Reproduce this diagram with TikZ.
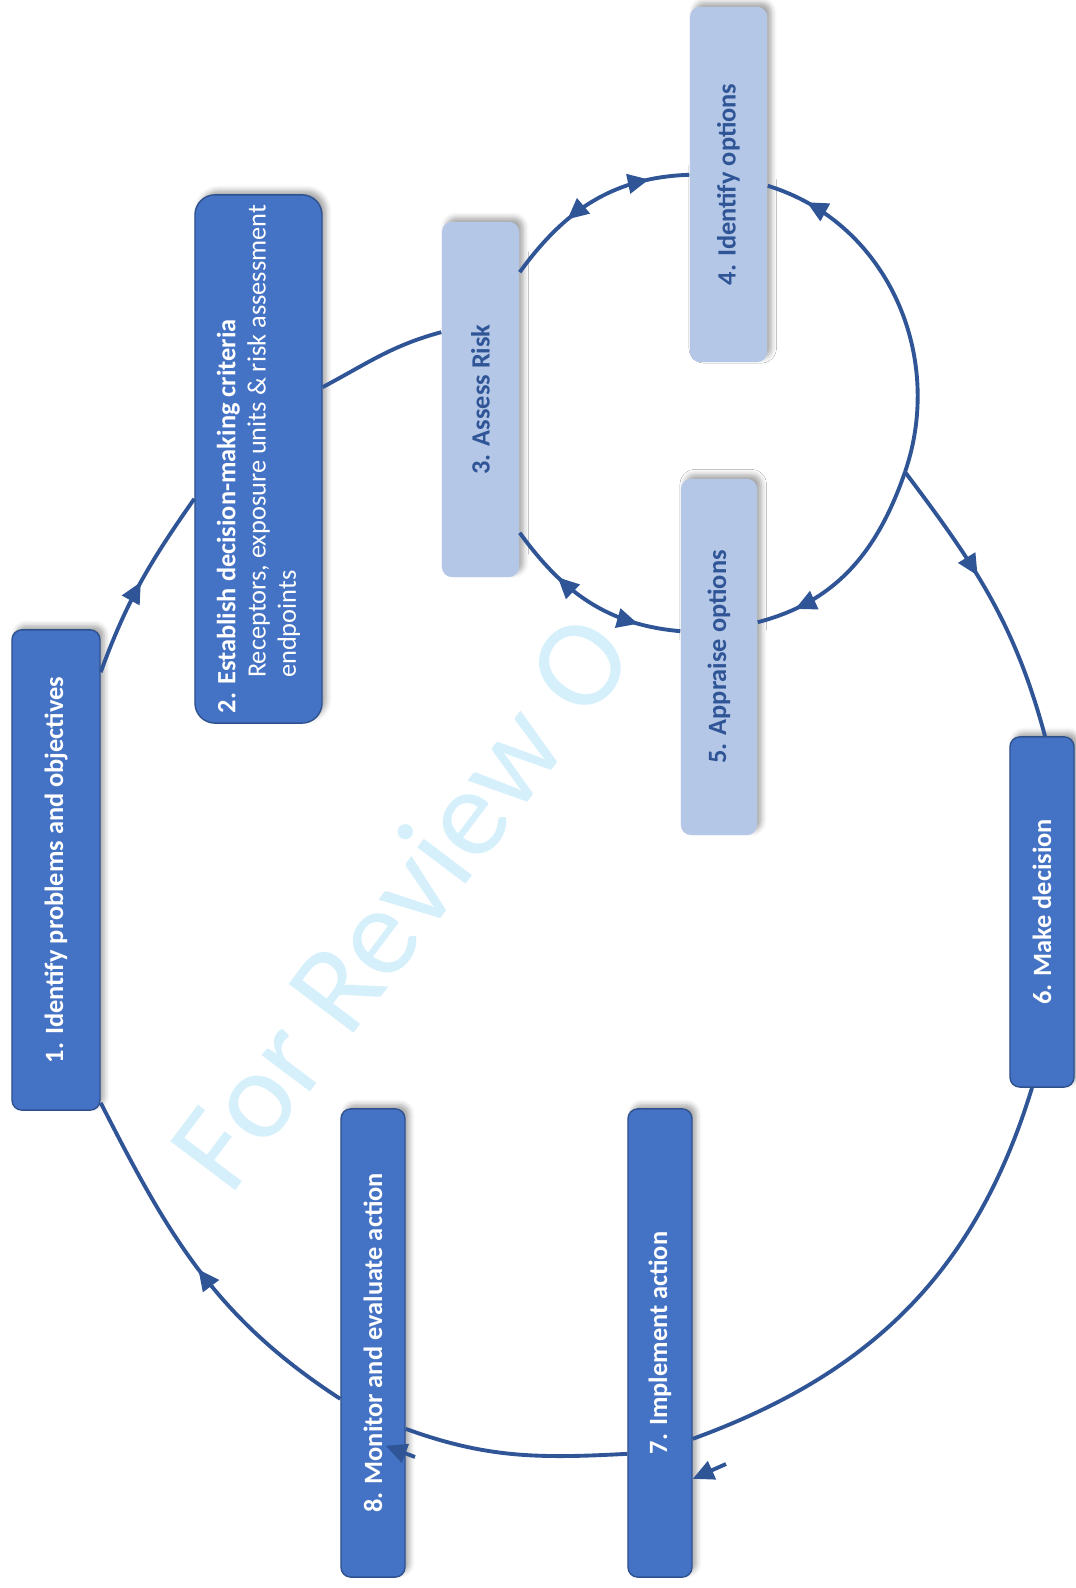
\documentclass[tikz,border=0pt]{standalone}
\usepackage{fontspec}
\setmainfont{Carlito}
\usetikzlibrary{arrows.meta,decorations.markings,shadows.blur}
\definecolor{boxblue}{HTML}{4472C4}
\definecolor{boxedge}{HTML}{2F528F}
\definecolor{paleblue}{HTML}{B4C7E7}
\definecolor{linkblue}{HTML}{2F5597}
\definecolor{markblue}{HTML}{D5F0FB}
\begin{document}
\begin{tikzpicture}[x=0.01cm,y=0.01cm,
		darkbox/.style={rotate=90,draw=boxedge,line width=0.4pt,fill=boxblue,text=white,
			rounded corners=2.8pt,inner sep=0pt,font=\fontsize{7.5}{8.6}\selectfont\bfseries,
			blur shadow={shadow xshift=1.2pt,shadow yshift=1.2pt,shadow blur radius=1.5pt,shadow opacity=35}},
		lightbox/.style={darkbox,draw=none,fill=paleblue,text=linkblue},
		link/.style={color=linkblue,line width=1.1pt},
		fwd/.style={postaction={decorate,decoration={markings,
					mark=at position #1 with {\arrow{Triangle[length=6pt,width=5.5pt]}}}}},
		bwd/.style={postaction={decorate,decoration={markings,
					mark=at position #1 with {\arrowreversed{Triangle[length=6pt,width=5.5pt]}}}}}]
	\useasboundingbox (0,0) rectangle (1075,1588);
	% watermark, partly hidden by the inner loop
	\node[text=markblue,rotate=53,font=\fontsize{36}{36}\selectfont] (wm) at (400,687) {For Review O};
	\fill[white] (700,1185) ellipse [x radius=222,y radius=238];
	% steps of the outer loop
	\node[darkbox,minimum width=4.8cm,minimum height=0.88cm] (n1) at (56,718) {1. Identify problems and objectives};
	\node[darkbox,rounded corners=5.7pt,minimum width=5.28cm,minimum height=1.27cm,align=left] (n2) at (258.5,1129)
	{2. Establish decision-making criteria\\\hspace*{10pt}\mdseries Receptors, exposure units \& risk assessment\\\hspace*{10pt}\mdseries endpoints};
	\node[darkbox,minimum width=3.5cm,minimum height=0.64cm] (n6) at (1042,676) {6. Make decision};
	\node[darkbox,minimum width=4.68cm,minimum height=0.64cm] (n7) at (660,245) {7. Implement action};
	\node[darkbox,minimum width=4.68cm,minimum height=0.64cm] (n8) at (373,245) {8. Monitor and evaluate action};
	% steps of the inner loop
	\node[lightbox,minimum width=3.55cm,minimum height=0.77cm] (n3) at (480.5,1188.5) {3. Assess Risk};
	\node[lightbox,minimum width=3.55cm,minimum height=0.77cm] (n4) at (728.5,1403.5) {4. Identify options};
	\node[lightbox,minimum width=3.56cm,minimum height=0.76cm] (n5) at (719,931) {5. Appraise options};
	% outer loop
	\coordinate (j) at (905,1116);
	\draw[link,fwd=0.5] ([shift={(0,-43)}]n1.south east) to[out=70,in=235] ([shift={(0,225)}]n2.north west);
	\draw[link] ([shift={(0,-193)}]n2.south east) to[out=28,in=195] ([shift={(0,-111)}]n3.north east);
	\draw[link,fwd=0.42] (j) to[out=-53,in=105] ([shift={(3,0)}]n6.east);
	\draw[link] ([shift={(-10,0)}]n6.west) to[out=253,in=20] ([shift={(0,139)}]n7.south west);
	\draw[link] ([shift={(0,124)}]n7.north west) to[out=183,in=340] ([shift={(0,149)}]n8.south west);
	\draw[link,fwd=0.5] ([shift={(0,179)}]n8.north west) to[out=147,in=297] ([shift={(0,8)}]n1.south west);
	% inner loop
	\draw[link,bwd=0.35,fwd=0.8] ([shift={(0,-51)}]n3.south east) to[out=54,in=182] ([shift={(0,188)}]n4.north west);
	\draw[link,fwd=0.88] (j) to[out=71,in=343] ([shift={(0,177)}]n4.south west);
	\draw[link,fwd=0.82] (j) to[out=251,in=14.5] ([shift={(0,-144)}]n5.south east);
	\draw[link,bwd=0.3,fwd=0.78] ([shift={(0,45)}]n3.south west) to[out=-54,in=175] ([shift={(0,-153)}]n5.north east);
	% loose arrowheads at steps 7 and 8
	\coordinate (t7) at (726,124);
	\coordinate (t8) at (415,131);
	\draw[link,-{Triangle[length=6pt,width=5.5pt]}] (t7) -- ([shift={(0,99)}]n7.south west);
	\draw[link,-{Triangle[length=6pt,width=5.5pt]}] (t8) -- ([shift={(-20,132)}]n8.south west);
\end{tikzpicture}
\end{document}
